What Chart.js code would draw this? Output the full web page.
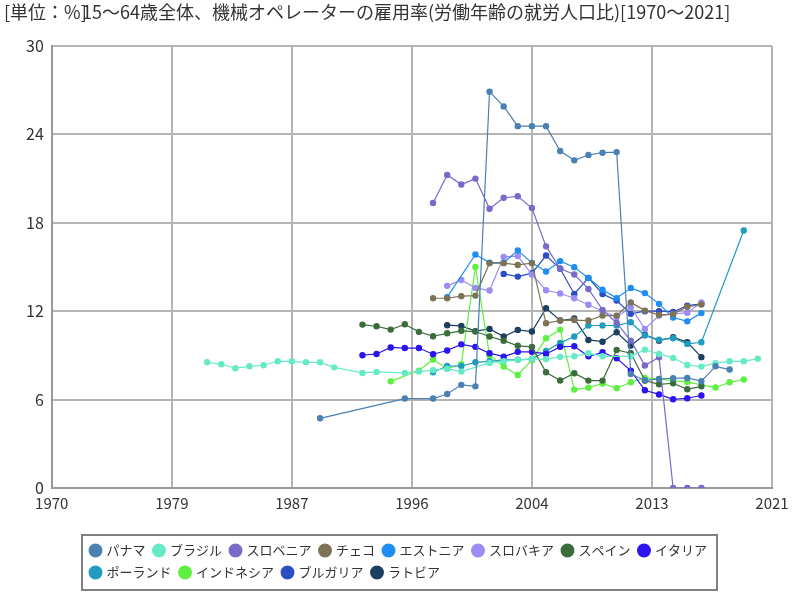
<!DOCTYPE html>
<html lang="ja">
<head>
<meta charset="UTF-8" />
<title>機械オペレーターの雇用率</title>
<script src="https://cdn.jsdelivr.net/npm/chart.js"></script>
<style>
    body { margin: 0; background: #fff; }
    .wrap { width: 800px; height: 600px; }
</style>
</head>
<body>
<div class="wrap"><canvas id="grafico"></canvas></div>
<script>
    // textos
    const unitLabel = '[単位：%]';
    const titleText = '15～64歳全体、機械オペレーターの雇用率(労働年齢の就労人口比)[1970～2021]';
    const xTickLabels = ['1970', '1979', '1987', '1996', '2004', '2013', '2021'];
    const yTickValues = [0, 6, 12, 18, 24, 30];

    const countries = ['パナマ', 'ブラジル', 'スロベニア', 'チェコ', 'エストニア', 'スロバキア',
        'スペイン', 'イタリア', 'ポーランド', 'インドネシア', 'ブルガリア', 'ラトビア'];

    // dados por país (anos / valores)
    const panamaYears = [1989, 1995, 1997, 1998, 1999, 2000, 2001, 2002, 2003, 2004, 2005, 2006, 2007, 2008, 2009, 2010, 2011, 2012, 2013, 2014, 2015, 2016, 2017, 2018];
    const panamaVals = [4.73, 6.07, 6.07, 6.38, 7.0, 6.9, 26.9, 25.9, 24.56, 24.56, 24.56, 22.87, 22.24, 22.6, 22.76, 22.8, 7.74, 7.3, 7.4, 7.45, 7.47, 7.25, 8.26, 8.04];

    const brazilYears = [1981, 1982, 1983, 1984, 1985, 1986, 1987, 1988, 1989, 1990, 1992, 1993, 1995, 1996, 1997, 1998, 1999, 2001, 2002, 2003, 2004, 2005, 2006, 2007, 2008, 2009, 2011, 2012, 2013, 2014, 2015, 2016, 2017, 2018, 2019, 2020];
    const brazilVals = [8.53, 8.4, 8.13, 8.26, 8.33, 8.6, 8.6, 8.53, 8.53, 8.19, 7.81, 7.88, 7.81, 7.9, 8.0, 8.1, 7.9, 8.49, 8.6, 8.69, 8.75, 8.75, 8.9, 8.94, 9.15, 8.94, 8.94, 9.39, 9.1, 8.83, 8.35, 8.24, 8.47, 8.6, 8.6, 8.78];

    const sloveniaYears = [1997, 1998, 1999, 2000, 2001, 2002, 2003, 2004, 2005, 2006, 2007, 2008, 2009, 2010, 2011, 2012, 2013, 2014, 2015, 2016];
    const sloveniaVals = [19.34, 21.25, 20.6, 21.0, 18.95, 19.7, 19.8, 19.0, 16.4, 14.9, 14.49, 13.51, 12.09, 11.2, 10.0, 8.31, 8.87, 0, 0, 0];

    const czechYears = [1997, 1998, 1999, 2000, 2001, 2002, 2003, 2004, 2005, 2006, 2007, 2008, 2009, 2010, 2011, 2012, 2013, 2014, 2015, 2016];
    const czechVals = [12.88, 12.88, 13.02, 13.06, 15.26, 15.26, 15.14, 15.26, 11.18, 11.38, 11.4, 11.37, 11.7, 11.7, 12.6, 12.04, 11.75, 11.8, 12.3, 12.45];

    const estoniaYears = [1998, 2000, 2001, 2002, 2003, 2004, 2005, 2006, 2007, 2008, 2009, 2010, 2011, 2012, 2013, 2014, 2015, 2016];
    const estoniaVals = [12.95, 15.85, 15.3, 15.3, 16.12, 15.28, 14.69, 15.4, 14.99, 14.25, 13.46, 12.89, 13.57, 13.23, 12.5, 11.57, 11.31, 11.87];

    const slovakiaYears = [1998, 1999, 2000, 2001, 2002, 2003, 2004, 2005, 2006, 2007, 2008, 2009, 2010, 2011, 2012, 2013, 2014, 2015, 2016];
    const slovakiaVals = [13.72, 14.12, 13.58, 13.4, 15.69, 15.74, 14.49, 13.42, 13.2, 12.88, 12.44, 12.0, 11.6, 12.27, 10.8, 11.7, 11.8, 11.9, 12.6];

    const spainYears = [1992, 1993, 1994, 1995, 1996, 1997, 1998, 1999, 2000, 2001, 2002, 2003, 2004, 2005, 2006, 2007, 2008, 2009, 2010, 2011, 2012, 2013, 2014, 2015, 2016];
    const spainVals = [11.09, 10.98, 10.75, 11.11, 10.6, 10.3, 10.5, 10.67, 10.62, 10.28, 10.0, 9.65, 9.58, 7.86, 7.3, 7.79, 7.29, 7.29, 9.37, 9.15, 7.29, 7.04, 7.11, 6.7, 6.9];

    const italyYears = [1992, 1993, 1994, 1995, 1996, 1997, 1998, 1999, 2000, 2001, 2002, 2003, 2004, 2005, 2006, 2007, 2008, 2009, 2010, 2011, 2012, 2013, 2014, 2015, 2016];
    const italyVals = [9.01, 9.1, 9.54, 9.5, 9.5, 9.08, 9.33, 9.75, 9.58, 9.15, 8.92, 9.24, 9.24, 9.1, 9.58, 9.62, 8.94, 9.21, 8.81, 7.97, 6.63, 6.35, 6.02, 6.09, 6.28];

    const polandYears = [1997, 1998, 1999, 2000, 2001, 2002, 2003, 2004, 2005, 2006, 2007, 2008, 2009, 2010, 2011, 2012, 2013, 2014, 2015, 2016, 2019];
    const polandVals = [7.86, 8.28, 8.28, 8.53, 8.6, 8.69, 8.7, 8.75, 9.3, 9.85, 10.28, 11.03, 11.03, 11.03, 11.25, 10.35, 10.07, 10.16, 9.78, 9.89, 17.48];

    const indonesiaYears = [1994, 1996, 1997, 1998, 1999, 2000, 2001, 2002, 2003, 2004, 2005, 2006, 2007, 2008, 2009, 2010, 2011, 2012, 2013, 2014, 2015, 2016, 2017, 2018, 2019];
    const indonesiaVals = [7.24, 7.97, 8.72, 8.1, 8.4, 15.0, 8.99, 8.24, 7.67, 8.69, 10.16, 10.75, 6.68, 6.81, 7.09, 6.77, 7.18, 7.47, 7.4, 7.29, 7.2, 7.0, 6.82, 7.18, 7.36];

    const bulgariaYears = [2002, 2003, 2004, 2005, 2006, 2007, 2008, 2009, 2010, 2011, 2012, 2013, 2014, 2015, 2016];
    const bulgariaVals = [14.53, 14.35, 14.58, 15.78, 14.88, 13.17, 14.26, 13.17, 12.72, 11.82, 12.0, 12.0, 11.95, 12.38, 12.5];

    const latviaYears = [1998, 1999, 2000, 2001, 2002, 2003, 2004, 2005, 2006, 2007, 2008, 2009, 2010, 2011, 2012, 2013, 2014, 2015, 2016];
    const latviaVals = [11.05, 11.0, 10.65, 10.8, 10.28, 10.73, 10.62, 12.2, 11.37, 11.5, 10.05, 9.93, 10.57, 9.67, 10.4, 10.0, 10.23, 9.9, 8.88];

    const seriesYears = [panamaYears, brazilYears, sloveniaYears, czechYears, estoniaYears, slovakiaYears,
        spainYears, italyYears, polandYears, indonesiaYears, bulgariaYears, latviaYears];
    const seriesVals = [panamaVals, brazilVals, sloveniaVals, czechVals, estoniaVals, slovakiaVals,
        spainVals, italyVals, polandVals, indonesiaVals, bulgariaVals, latviaVals];

    const cores = ['#4a80b2', '#66eac6', '#7a69c9', '#7e7356', '#1e8ef2', '#9c8cf4',
        '#3c6c3c', '#2a14f0', '#1f9cc0', '#5ef040', '#2a4ec4', '#1d3f5f'];

    const fonte = '"Noto Sans CJK JP", "Noto Sans", sans-serif';
    const xMin = 1970, xMax = 2021;

    const datasets = countries.map((nome, i) => ({
        label: nome,
        data: seriesYears[i].map((ano, j) => ({ x: ano, y: seriesVals[i][j] })),
        borderColor: cores[i],
        backgroundColor: cores[i],
        pointBackgroundColor: cores[i],
        pointBorderColor: cores[i],
        borderWidth: 1.2,
        pointRadius: 2.6,
        pointHoverRadius: 3,
        tension: 0
    }));

    // título + moldura da legenda
    const decor = {
        id: 'decor',
        afterLayout(chart) {
            const lg = chart.legend;
            const h = lg.bottom - lg.top;
            lg.left = 82;
            lg.right = 717;
            lg.top = 535;
            lg.bottom = 535 + h;
        },
        afterDraw(chart) {
            const ctx = chart.ctx;
            ctx.save();
            ctx.fillStyle = '#333';
            ctx.textBaseline = 'top';
            ctx.font = '18px ' + fonte;
            ctx.fillText(titleText, 82, 3);
            ctx.fillText(unitLabel, 4, 3);
            ctx.strokeStyle = '#808080';
            ctx.lineWidth = 2;
            ctx.strokeRect(82, 535, 635, 55);
            ctx.restore();
        }
    };

    new Chart(document.getElementById('grafico'), {
        type: 'line',
        data: { datasets },
        options: {
            responsive: true,
            maintainAspectRatio: false,
            animation: false,
            layout: { padding: { top: 46, left: 18, right: 28, bottom: 28 } },
            scales: {
                x: {
                    type: 'linear',
                    min: xMin,
                    max: xMax,
                    afterBuildTicks: axis => {
                        axis.ticks = xTickLabels.map((t, i) => ({ value: xMin + i * (xMax - xMin) / (xTickLabels.length - 1) }));
                    },
                    ticks: {
                        color: '#333',
                        padding: 6,
                        font: { family: fonte, size: 15 },
                        maxRotation: 0,
                        callback: (v, i) => xTickLabels[i]
                    },
                    grid: { color: '#b4b4b4', lineWidth: 2, drawTicks: false },
                    border: { color: '#999', width: 2 }
                },
                y: {
                    min: 0,
                    max: 30,
                    afterBuildTicks: axis => {
                        axis.ticks = yTickValues.map(v => ({ value: v }));
                    },
                    ticks: {
                        color: '#333',
                        padding: 8,
                        font: { family: fonte, size: 16 }
                    },
                    grid: { color: '#b4b4b4', lineWidth: 2, drawTicks: false },
                    border: { color: '#999', width: 2 }
                }
            },
            plugins: {
                legend: {
                    position: 'bottom',
                    align: 'start',
                    fullSize: false,
                    labels: {
                        color: '#333',
                        usePointStyle: true,
                        pointStyle: 'circle',
                        boxWidth: 9,
                        boxHeight: 9,
                        padding: 9,
                        font: { family: fonte, size: 13 }
                    }
                },
                tooltip: { enabled: false }
            }
        },
        plugins: [decor]
    });
</script>
</body>
</html>
